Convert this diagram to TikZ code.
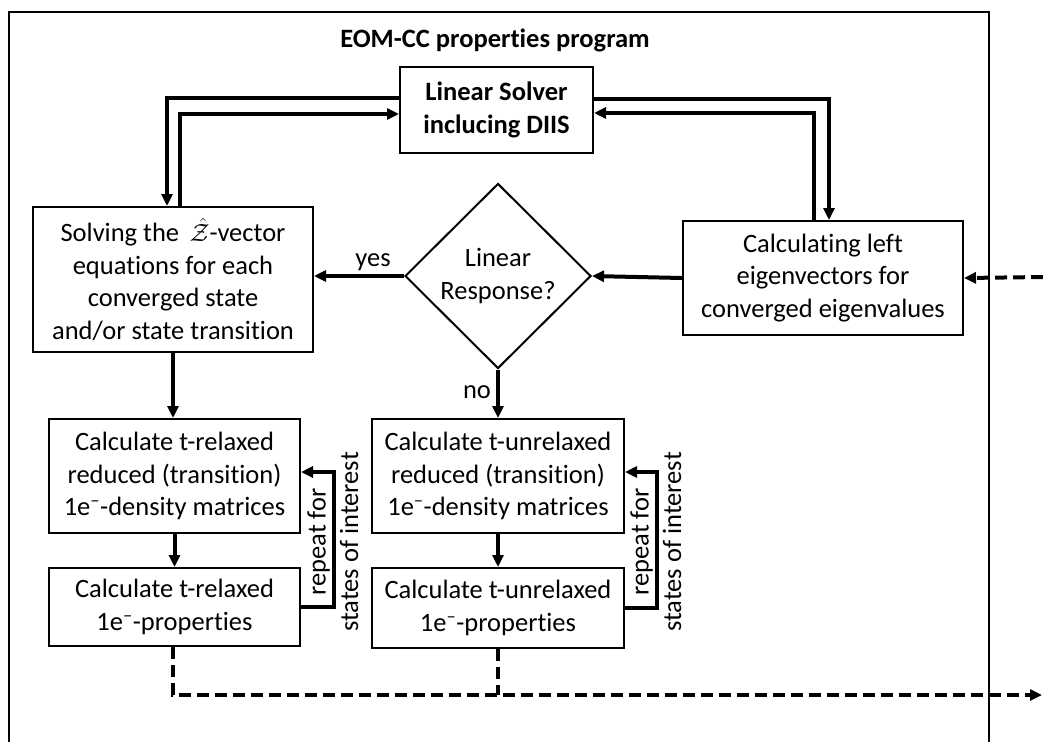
\documentclass[tikz,border=0pt]{standalone}
\usepackage{fontspec}
\setmainfont{Carlito}[Ligatures=NoCommon]
\usetikzlibrary{arrows.meta,shapes.geometric,calc}
\newcommand{\eminus}{1e\textsuperscript{\textendash}}
\begin{document}
\begin{tikzpicture}[x=1pt,y=-1pt,
  every node/.style={font=\fontsize{26.5}{32.5}\selectfont},
  box/.style={draw,line width=2pt,rectangle,inner sep=0pt,align=center},
  dia/.style={draw,line width=2pt,diamond,inner sep=0pt,align=center,minimum width=186pt,minimum height=185pt},
  arr/.style={line width=4pt,-{Triangle[length=12pt,width=11pt]}},
  darr/.style={line width=4pt,dash pattern=on 12pt off 6pt,-{Triangle[length=12pt,width=11pt]}},
  dline/.style={line width=4pt,dash pattern=on 12pt off 6pt},
  frame/.style={line width=2pt}]
\useasboundingbox (0,0) rectangle (1043,742);
\draw[frame] (9,742) -- (9,12) -- (989,12) -- (989,742);
\node[font=\fontsize{26.5}{32.5}\selectfont\bfseries] (title) at (495,40) {EOM-CC properties program};
\node[box,minimum width=193pt,minimum height=86pt,font=\fontsize{26.5}{32.5}\selectfont\bfseries] (solver) at (496.5,110) {Linear Solver\\inclucing DIIS};
\node[box,minimum width=280pt,minimum height=145pt] (solving) at (173,279.5) {Solving the \,$\hat{\mathcal{Z}}$-vector\\equations for each\\converged state\\and/or state transition};
\node[dia] (lr) at (498,276) {Linear\\Response?};
\node[box,minimum width=280pt,minimum height=114pt] (calcleft) at (823,278) {Calculating left\\eigenvectors for\\converged eigenvalues};
\node[box,minimum width=251pt,minimum height=114pt] (reldens) at (174.5,476) {Calculate t-relaxed\\reduced (transition)\\\eminus-density matrices};
\node[box,minimum width=251pt,minimum height=78pt] (relprop) at (174.5,607) {Calculate t-relaxed\\\eminus-properties};
\node[box,minimum width=252pt,minimum height=114pt] (unrdens) at (498,476) {Calculate t-unrelaxed\\reduced (transition)\\\eminus-density matrices};
\node[box,minimum width=252pt,minimum height=80pt] (unrprop) at (498,608) {Calculate t-unrelaxed\\\eminus-properties};
\node (yes) at (373,262) {yes};
\node (no) at (477,392) {no};
\node[rotate=90,align=center] (rep1) at (333,542) {repeat for\\states of interest};
\node[rotate=90,align=center] (rep2) at (656,542) {repeat for\\states of interest};
\coordinate (inR) at (1043,277);
\coordinate (outR) at (1042,695);
% loops to solver
\draw[arr] ($(solver.west)+(0,-12)$) -| ($(solving.north)+(-6,0)$);
\draw[arr] ($(solving.north)+(7,0)$) |- ($(solver.west)+(0,4)$);
\draw[arr] ($(solver.east)+(0,-11)$) -| ($(calcleft.north)+(6,0)$);
\draw[arr] ($(calcleft.north)+(-9,0)$) |- ($(solver.east)+(0,3)$);
% main flow
\draw[arr] (calcleft.west) -- (lr.east);
\draw[arr] (lr.west) -- (lr.west -| solving.east);
\draw[arr] (lr.south) -- (lr.south |- unrdens.north);
\draw[arr] (solving.south) -- (solving.south |- reldens.north);
\draw[arr] (reldens.south) -- (relprop.north);
\draw[arr] (unrdens.south) -- (unrprop.north);
% repeat loops
\draw[arr] (relprop.east) -- ++(33,0) |- ($(reldens.east)+(0,-4)$);
\draw[arr] (unrprop.east) -- ++(32,0) |- ($(unrdens.east)+(0,-4)$);
% dashed
\draw[darr] (inR) -- (calcleft.east);
\draw[darr] ($(relprop.south)+(-1.5,0)$) |- (outR);
\draw[dline] (unrprop.south) -- (unrprop.south |- outR);
\end{tikzpicture}
\end{document}
